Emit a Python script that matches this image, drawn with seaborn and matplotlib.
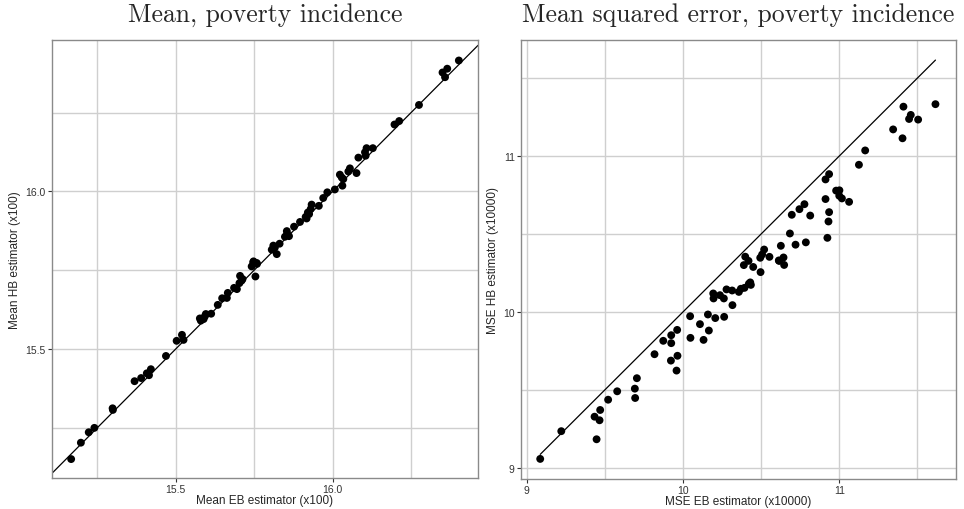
import numpy as np
import pandas as pd
import matplotlib
matplotlib.use("Agg")
import matplotlib.pyplot as plt
import seaborn as sns

# Panel 1: mean estimates (x100), EB vs HB
mean_eb = [15.167, 15.198, 15.223, 15.241, 15.299, 15.300, 15.369, 15.390, 15.408, 15.415,
           15.421, 15.469, 15.503, 15.520, 15.525, 15.577, 15.580, 15.589, 15.596, 15.593,
           15.613, 15.634, 15.648, 15.663, 15.666, 15.686, 15.695, 15.703, 15.705, 15.713,
           15.710, 15.754, 15.742, 15.747, 15.758, 15.748, 15.759, 15.806, 15.811, 15.816,
           15.822, 15.831, 15.848, 15.854, 15.861, 15.855, 15.877, 15.896, 15.914, 15.917,
           15.921, 15.925, 15.930, 15.933, 15.956, 15.970, 15.983, 16.007, 16.031, 16.023,
           16.029, 16.034, 16.050, 16.055, 16.076, 16.082, 16.105, 16.103, 16.108, 16.128,
           16.197, 16.212, 16.275, 16.350, 16.365, 16.358, 16.402]
mean_hb = [15.151, 15.203, 15.236, 15.250, 15.312, 15.307, 15.398, 15.408, 15.423, 15.417,
           15.436, 15.478, 15.526, 15.545, 15.529, 15.597, 15.590, 15.595, 15.611, 15.604,
           15.612, 15.640, 15.661, 15.662, 15.678, 15.694, 15.690, 15.709, 15.732, 15.722,
           15.717, 15.730, 15.762, 15.775, 15.773, 15.778, 15.770, 15.815, 15.828, 15.822,
           15.801, 15.834, 15.856, 15.874, 15.858, 15.865, 15.888, 15.903, 15.919, 15.914,
           15.933, 15.928, 15.944, 15.958, 15.954, 15.979, 15.997, 16.006, 16.018, 16.053,
           16.044, 16.039, 16.063, 16.073, 16.058, 16.107, 16.113, 16.124, 16.137, 16.137,
           16.212, 16.223, 16.274, 16.377, 16.389, 16.362, 16.415]

# Panel 2: MSE estimates (x10000), EB vs HB
mse_eb = [9.085, 9.220, 9.446, 9.433, 9.469, 9.465, 9.520, 9.578, 9.691, 9.693,
          9.704, 9.817, 9.873, 9.924, 9.924, 9.922, 9.962, 9.964, 9.958, 10.045,
          10.047, 10.108, 10.131, 10.159, 10.165, 10.193, 10.195, 10.206, 10.236, 10.261,
          10.263, 10.278, 10.314, 10.316, 10.357, 10.370, 10.393, 10.421, 10.430, 10.434,
          10.389, 10.419, 10.449, 10.496, 10.615, 10.647, 10.398, 10.494, 10.506, 10.519,
          10.553, 10.613, 10.626, 10.643, 10.684, 10.696, 10.720, 10.745, 10.777, 10.786,
          10.814, 10.912, 10.935, 10.912, 10.935, 10.931, 10.924, 10.980, 11.001, 11.000,
          11.017, 11.063, 11.126, 11.166, 11.345, 11.405, 11.411, 11.447, 11.458, 11.505,
          11.616]
mse_hb = [9.056, 9.234, 9.182, 9.327, 9.370, 9.304, 9.436, 9.490, 9.507, 9.447,
          9.574, 9.728, 9.814, 9.850, 9.799, 9.687, 9.884, 9.718, 9.623, 9.972,
          9.833, 9.921, 9.820, 9.983, 9.880, 10.118, 10.086, 9.960, 10.107, 10.086,
          9.968, 10.144, 10.137, 10.043, 10.128, 10.148, 10.154, 10.180, 10.189, 10.173,
          10.300, 10.327, 10.288, 10.255, 10.327, 10.301, 10.354, 10.347, 10.368, 10.400,
          10.353, 10.330, 10.424, 10.349, 10.503, 10.623, 10.431, 10.659, 10.691, 10.446,
          10.618, 10.850, 10.884, 10.724, 10.640, 10.580, 10.475, 10.778, 10.780, 10.745,
          10.728, 10.706, 10.944, 11.036, 11.171, 11.114, 11.317, 11.238, 11.264, 11.234,
          11.333]

df_mean = pd.DataFrame({"eb": mean_eb, "hb": mean_hb})
df_mse = pd.DataFrame({"eb": mse_eb, "hb": mse_hb})

sns.set_style("white", {
    "axes.edgecolor": "#8a8a8a",
    "grid.color": "#cfcfcf",
})
plt.rcParams["font.family"] = ["Liberation Sans", "DejaVu Sans"]

fig = plt.figure(figsize=(9.64, 5.10), dpi=100)
ax1 = fig.add_axes([52 / 964, 31 / 510, 426 / 964, 438 / 510])
ax2 = fig.add_axes([521 / 964, 30 / 510, 434.6 / 964, 438.7 / 510])


def style_axes(ax, major, minor, xlim, ylim):
    ax.set_xlim(*xlim)
    ax.set_ylim(*ylim)
    ax.set_xticks(major)
    ax.set_yticks(major)
    ax.set_xticks(minor, minor=True)
    ax.set_yticks(minor, minor=True)
    ax.grid(True, which="both", color="#cfcfcf", linewidth=1.0)
    ax.set_axisbelow(True)
    ax.tick_params(axis="both", which="major", direction="out", length=3,
                   width=0.8, color="#333333", labelsize=7.5, labelcolor="#333333",
                   pad=1.5, bottom=True, left=True)
    ax.tick_params(axis="both", which="minor", length=0)
    for sp in ax.spines.values():
        sp.set_color("#8a8a8a")
        sp.set_linewidth(1.0)


# left panel
sns.scatterplot(data=df_mean, x="eb", y="hb", ax=ax1, color="black", s=32,
                edgecolor="none", zorder=3)
ax1.axline((15.5, 15.5), slope=1, color="black", linewidth=0.9, zorder=2)
style_axes(ax1, [15.5, 16.0], [15.25, 15.75, 16.25], (15.106, 16.463), (15.091, 16.48))
ax1.set_xticklabels(["15.5", "16.0"])
ax1.set_yticklabels(["15.5", "16.0"])
ax1.set_xlabel("Mean EB estimator (x100)", fontsize=8.5, labelpad=0)
ax1.set_ylabel("Mean HB estimator (x100)", fontsize=8.5, labelpad=3)
ax1.set_title("Mean, poverty incidence", fontfamily="cmr10", fontsize=18.5, pad=14)

# right panel
sns.scatterplot(data=df_mse, x="eb", y="hb", ax=ax2, color="black", s=32,
                edgecolor="none", zorder=3)
lo, hi = min(mse_eb), max(mse_eb)
ax2.plot([lo, hi], [lo, hi], color="black", linewidth=0.9, zorder=2)
style_axes(ax2, [9, 10, 11], [9.5, 10.5, 11.5], (8.962, 11.745), (8.927, 11.743))
ax2.set_xticklabels(["9", "10", "11"])
ax2.set_yticklabels(["9", "10", "11"])
ax2.set_xlabel("MSE EB estimator (x10000)", fontsize=8.5, labelpad=0)
ax2.set_ylabel("MSE HB estimator (x10000)", fontsize=8.5, labelpad=3)
ax2.set_title("Mean squared error, poverty incidence", fontfamily="cmr10",
              fontsize=18.5, pad=14)

fig.savefig("out.png", dpi=100)
